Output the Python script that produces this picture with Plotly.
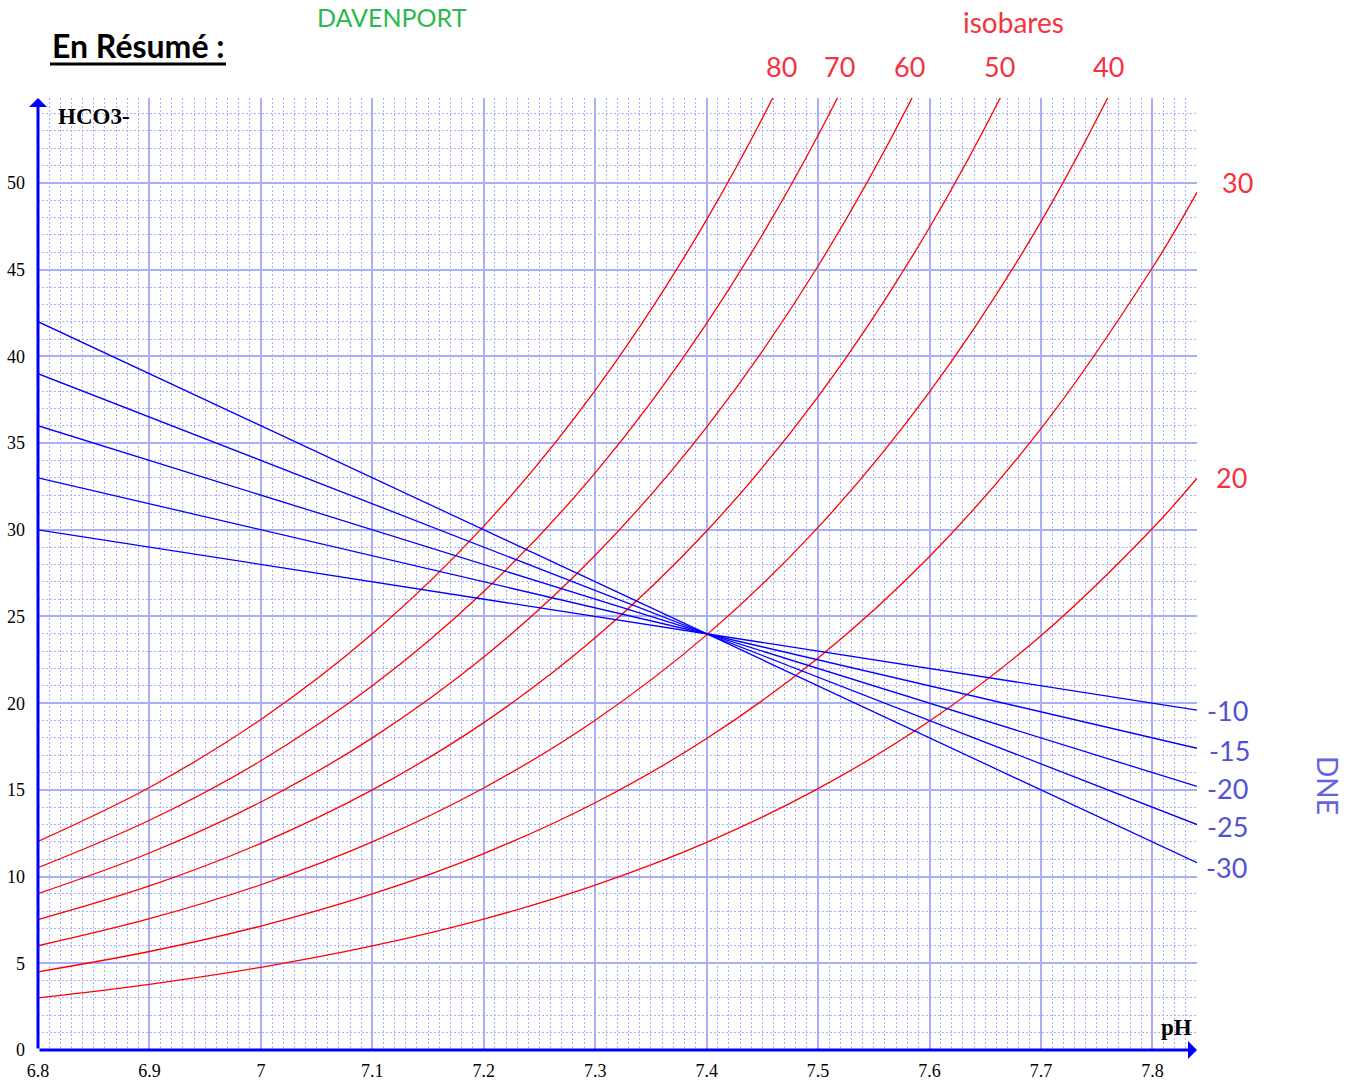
import plotly.graph_objects as go

# pH sample points along the horizontal axis
ph = [6.8, 6.9, 7.0, 7.1, 7.2, 7.3, 7.4, 7.5, 7.6, 7.7, 7.8, 7.84]

# HCO3- along each PCO2 isobar (mmHg), one list per curve
iso_20 = [3.01, 3.79, 4.77, 6.00, 7.55, 9.51, 11.97, 15.07, 18.97, 23.89, 30.07, 32.97]
iso_30 = [4.51, 5.68, 7.15, 9.00, 11.33, 14.26, 17.96, 22.61, 28.46, 35.83, 45.11, 49.46]
iso_40 = [6.01, 7.57, 9.53, 12.00, 15.11, 19.02, 23.94, 30.14, 37.95, 47.77, 60.14, 65.94]
iso_50 = [7.52, 9.46, 11.92, 15.00, 18.88, 23.77, 29.93, 37.68, 47.43, 59.72, 75.18, 82.43]
iso_60 = [9.02, 11.36, 14.30, 18.00, 22.66, 28.53, 35.92, 45.21, 56.92, 71.66, 90.21, 98.92]
iso_70 = [10.52, 13.25, 16.68, 21.00, 26.44, 33.28, 41.90, 52.75, 66.41, 83.60, 105.2, 115.4]
iso_80 = [12.03, 15.14, 19.06, 24.00, 30.21, 38.04, 47.89, 60.29, 75.90, 95.55, 120.3, 131.9]
isobars = [iso_20, iso_30, iso_40, iso_50, iso_60, iso_70, iso_80]

# buffer lines (DNE) : end points at pH 6.8 and pH 7.84
dne_ph = [6.8, 7.84]
dne_10 = [30, 19.6]
dne_15 = [33, 17.4]
dne_20 = [36, 15.2]
dne_25 = [39, 13.0]
dne_30 = [42, 10.8]
dne_lines = [dne_10, dne_15, dne_20, dne_25, dne_30]

# axis tick labels
x_ticks = [6.8, 6.9, 7.0, 7.1, 7.2, 7.3, 7.4, 7.5, 7.6, 7.7, 7.8]
x_labels = ["6.8", "6.9", "7", "7.1", "7.2", "7.3", "7.4", "7.5", "7.6", "7.7", "7.8"]
y_ticks = [0, 5, 10, 15, 20, 25, 30, 35, 40, 45, 50]
y_labels = [str(v) for v in y_ticks]

# curve labels
iso_top_labels = ["80", "70", "60", "50", "40"]
iso_side_labels = ["30", "20"]
dne_labels = ["-10", "-15", "-20", "-25", "-30"]

W, H = 1359, 1083
L, R, T, B = 38, 1197, 98, 1050


def px(x):
    return (x - L) / (R - L)


def py(y):
    return (B - y) / (B - T)


RED = "#ff0000"
BLUE = "#0000ff"
LABEL_RED = "#f5333f"
LABEL_BLUE = "#5252d6"
SANS = "Lato, 'Open Sans', sans-serif"
SERIF = "'Liberation Serif', 'DejaVu Serif', serif"

fig = go.Figure()

for ys in isobars:
    fig.add_trace(go.Scatter(x=ph, y=ys, mode="lines", line=dict(color=RED, width=1.3, shape="spline"),
                             hoverinfo="skip", showlegend=False))

for ys in dne_lines:
    fig.add_trace(go.Scatter(x=dne_ph, y=ys, mode="lines", line=dict(color=BLUE, width=1.3),
                             hoverinfo="skip", showlegend=False))

grid_major = "#a9aef8"
grid_minor = "#a8adfc"

fig.update_xaxes(
    range=[6.8, 7.84], tickmode="array", tickvals=x_ticks, ticktext=x_labels,
    showgrid=True, gridcolor=grid_major, gridwidth=1.5, zeroline=False, showline=False,
    ticks="", ticklabelstandoff=8, automargin=False,
    tickfont=dict(family=SERIF, size=18, color="black"),
    minor=dict(tick0=6.8, dtick=0.01, showgrid=True, gridcolor=grid_minor, griddash="2px,2px", gridwidth=1),
)
fig.update_yaxes(
    range=[0, 54.9], tickmode="array", tickvals=y_ticks, ticktext=y_labels,
    showgrid=True, gridcolor=grid_major, gridwidth=1.5, zeroline=False, showline=False,
    ticks="", ticklabelstandoff=12, automargin=False,
    tickfont=dict(family=SERIF, size=18, color="black"),
    minor=dict(tick0=0, dtick=1, showgrid=True, gridcolor=grid_minor, griddash="2px,2px", gridwidth=1),
)

ann = []

# axis arrows
ann.append(dict(x=7.84, y=0, ax=6.8, ay=0, xref="x", yref="y", axref="x", ayref="y", text="",
                showarrow=True, arrowhead=1, arrowsize=1, arrowwidth=3, arrowcolor=BLUE, standoff=0))
ann.append(dict(x=6.8, y=54.9, ax=6.8, ay=0, xref="x", yref="y", axref="x", ayref="y", text="",
                showarrow=True, arrowhead=1, arrowsize=1, arrowwidth=3, arrowcolor=BLUE, standoff=0))


def label(text, x, y, size, color, family=SANS, xanchor="center", angle=0):
    ann.append(dict(x=px(x), y=py(y), xref="paper", yref="paper", text=text, showarrow=False,
                    xanchor=xanchor, yanchor="middle", textangle=angle,
                    font=dict(family=family, size=size, color=color)))


label("<b>HCO3-</b>", 56, 116, 23, "black", family=SERIF, xanchor="left")
label("<b>pH</b>", 1176, 1027, 23, "black", family=SERIF)

label("<b>En Résumé :</b>", 138, 46, 32, "black")
label("DAVENPORT", 392, 17, 25, "#2db84f")
label("isobares", 1013, 22, 28, LABEL_RED)

for t, x in zip(iso_top_labels, [781, 839, 909, 999, 1108]):
    label(t, x, 67, 27, LABEL_RED)
for t, (x, y) in zip(iso_side_labels, [(1237, 182), (1231, 477)]):
    label(t, x, y, 27, LABEL_RED)

for t, (x, y) in zip(dne_labels, [(1228, 711), (1229, 750), (1228, 788), (1228, 826), (1226, 867)]):
    label(t, x, y, 27, LABEL_BLUE)
label("DNE", 1328, 785, 28, "#6464e0", angle=90)

fig.update_layout(
    width=W, height=H, autosize=False,
    margin=dict(l=L, r=W - R, t=T, b=H - B, pad=0),
    plot_bgcolor="white", paper_bgcolor="white",
    annotations=ann,
    shapes=[dict(type="line", xref="paper", yref="paper", x0=px(50), x1=px(226), y0=py(64), y1=py(64),
                 line=dict(color="black", width=3))],
)

fig.write_html("out.html")
